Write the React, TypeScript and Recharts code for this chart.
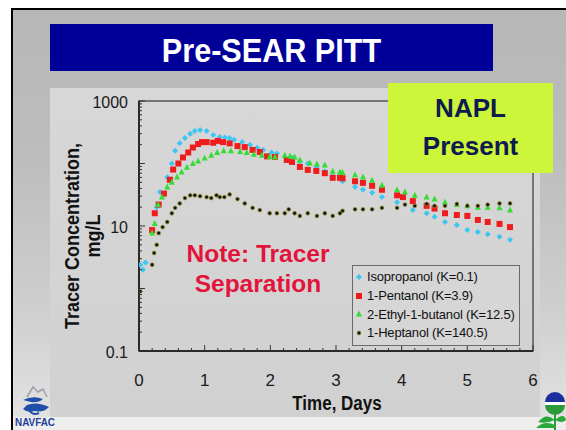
import React from 'react';
import { ScatterChart, Scatter, XAxis, YAxis, Legend, ReferenceArea } from 'recharts';

// ---- data (days, mg/L) ----
const isoDays = [0.02, 0.06, 0.1, 0.27, 0.32, 0.43, 0.5, 0.55, 0.62, 0.7, 0.78, 0.85, 0.93, 1.03, 1.13, 1.23, 1.31, 1.38, 1.45, 1.57, 1.69, 1.8, 1.89, 2.02, 2.1, 2.34, 2.45, 2.57, 2.7, 2.83, 2.95, 3.1, 3.29, 3.41, 3.55, 3.7, 3.93, 4.17, 4.38, 4.5, 4.66, 4.84, 5.0, 5.16, 5.31, 5.49, 5.65];
const isoConc = [2.4, 2.0, 2.6, 20, 35, 60, 100, 160, 210, 255, 300, 330, 345, 330, 285, 265, 260, 255, 240, 220, 200, 178, 165, 150, 145, 124, 108, 100, 88, 75, 62, 52, 42, 38, 34, 29, 24, 18, 16, 14, 11.6, 10.4, 8.6, 8.0, 7.4, 6.7, 6.0];

const penDays = [0.2, 0.24, 0.3, 0.38, 0.47, 0.52, 0.6, 0.67, 0.75, 0.82, 0.9, 0.96, 1.03, 1.13, 1.2, 1.28, 1.38, 1.5, 1.61, 1.73, 1.84, 1.95, 2.07, 2.25, 2.33, 2.45, 2.57, 2.7, 2.83, 2.95, 3.06, 3.1, 3.29, 3.41, 3.55, 3.7, 3.93, 4.02, 4.17, 4.38, 4.5, 4.66, 4.84, 5.0, 5.16, 5.31, 5.49, 5.65];
const penConc = [8.6, 16, 22, 33, 55, 80, 100, 125, 150, 180, 205, 220, 220, 215, 230, 220, 210, 190, 183, 165, 153, 130, 127, 114, 106, 88, 79, 76, 70, 59, 59, 58, 52, 49, 44, 38, 31, 29, 25, 21, 19, 16, 15, 14.5, 12.5, 11.6, 10.8, 9.6];

const ebDays = [0.2, 0.24, 0.29, 0.35, 0.43, 0.5, 0.58, 0.65, 0.73, 0.82, 0.9, 1.0, 1.1, 1.19, 1.29, 1.4, 1.54, 1.64, 1.75, 1.87, 1.99, 2.07, 2.22, 2.3, 2.37, 2.45, 2.6, 2.71, 2.83, 2.95, 3.06, 3.1, 3.29, 3.41, 3.55, 3.7, 3.93, 4.05, 4.2, 4.38, 4.5, 4.66, 4.84, 5.0, 5.16, 5.31, 5.49, 5.65];
const ebConc = [7.7, 11, 22, 29, 42, 50, 61, 73, 87, 100, 110, 122, 135, 150, 160, 160, 155, 150, 140, 135, 128, 127, 135, 132, 127, 114, 102, 98, 95, 75, 73, 72, 66, 61, 54, 45, 38, 35, 31, 29, 27, 24, 22, 21, 20, 20, 19.5, 18];

const hepDays = [0.02, 0.2, 0.23, 0.27, 0.3, 0.36, 0.43, 0.5, 0.55, 0.62, 0.7, 0.78, 0.85, 0.93, 1.03, 1.1, 1.18, 1.23, 1.3, 1.38, 1.5, 1.61, 1.73, 1.84, 1.99, 2.1, 2.22, 2.28, 2.37, 2.45, 2.57, 2.71, 2.83, 2.95, 3.06, 3.1, 3.29, 3.41, 3.55, 3.7, 3.93, 4.05, 4.2, 4.38, 4.5, 4.66, 4.84, 5.0, 5.16, 5.31, 5.49, 5.65];
const hepConc = [0.9, 2.4, 3.7, 5.0, 7.7, 9.6, 11.6, 16, 19.5, 23, 28, 31, 31, 30, 29, 28, 31, 29, 29, 32, 27, 23, 19.5, 18, 16, 16, 16, 18.5, 16, 14.5, 16, 14.5, 16, 14.5, 16, 17.5, 18.5, 18.5, 18.5, 19.5, 19.5, 22, 21, 22.5, 21, 21, 22.5, 21, 21, 22, 23, 23];

const seriesNames = ['Isopropanol (K=0.1)', '1-Pentanol (K=3.9)', '2-Ethyl-1-butanol (K=12.5)', '1-Heptanol (K=140.5)'];
const seriesColors = ['#3ec6f2', '#ee1c1c', '#33dd33', '#111111'];

const xMajorTicks = [0, 1, 2, 3, 4, 5, 6];
const xAllTicks = [0, 0.2, 0.4, 0.6, 0.8, 1, 1.2, 1.4, 1.6, 1.8, 2, 2.2, 2.4, 2.6, 2.8, 3, 3.2, 3.4, 3.6, 3.8, 4, 4.2, 4.4, 4.6, 4.8, 5, 5.2, 5.4, 5.6, 5.8, 6];
const yAllTicks = [0.1, 0.2, 0.3, 0.4, 0.5, 0.6, 0.7, 0.8, 0.9, 1, 2, 3, 4, 5, 6, 7, 8, 9, 10, 20, 30, 40, 50, 60, 70, 80, 90, 100, 200, 300, 400, 500, 600, 700, 800, 900, 1000];
const yMajorTicks = [0.1, 1, 10, 100, 1000];
const yLabelTicks = [0.1, 10, 1000];

const zip = (d: number[], c: number[]) => d.map((t, i) => ({ t, c: c[i] }));
const isoData = zip(isoDays, isoConc);
const penData = zip(penDays, penConc);
const ebData = zip(ebDays, ebConc);
const hepData = zip(hepDays, hepConc);

const FONT = '"Liberation Sans", Arial, Helvetica, sans-serif';

const markerFor = (idx: number, cx: number, cy: number) => {
  if (idx === 0) {
    return <path d={`M${cx},${cy - 3}L${cx + 3},${cy}L${cx},${cy + 3}L${cx - 3},${cy}Z`} fill={seriesColors[0]} />;
  }
  if (idx === 1) {
    return <rect x={cx - 3} y={cy - 3} width={6} height={6} fill={seriesColors[1]} />;
  }
  if (idx === 2) {
    return <path d={`M${cx},${cy - 3.5}L${cx + 3},${cy + 2.5}L${cx - 3},${cy + 2.5}Z`} fill={seriesColors[2]} />;
  }
  return <circle cx={cx} cy={cy} r={1.9} fill={seriesColors[3]} stroke="#8f8f30" strokeWidth={0.8} />;
};

const makeShape = (idx: number) => (props: any) => {
  const { cx, cy } = props;
  if (cx == null || cy == null) return <g />;
  return markerFor(idx, cx, cy);
};

const YTick = (props: any) => {
  const { x, y, payload } = props;
  const v = payload.value;
  const major = yMajorTicks.includes(v);
  return (
    <g>
      <line x1={x} x2={x + (major ? 6 : 3)} y1={y} y2={y} stroke="#333" strokeWidth={1} />
      {yLabelTicks.includes(v) && (
        <text x={x - 11} y={y + 7} textAnchor="end" fontSize={16} fill="#1a1a1a" fontFamily={FONT}>
          {String(v)}
        </text>
      )}
    </g>
  );
};

const XTick = (props: any) => {
  const { x, y, payload } = props;
  const v = payload.value;
  const major = xMajorTicks.includes(v);
  return (
    <g>
      <line x1={x} x2={x} y1={y} y2={y - (major ? 6 : 3)} stroke="#333" strokeWidth={1} />
      {major && (
        <text x={x} y={y + 35} textAnchor="middle" fontSize={17} fill="#1a1a1a" fontFamily={FONT}>
          {String(v)}
        </text>
      )}
    </g>
  );
};

const LegendBox = (props: any) => {
  const payload = [...(props.payload || [])].sort(
    (a: any, b: any) => seriesNames.indexOf(a.value) - seriesNames.indexOf(b.value)
  );
  return (
    <div
      style={{
        width: 168,
        height: 81,
        boxSizing: 'border-box',
        border: '1px solid #6a6a6a',
        background: '#d6d6d6',
        paddingTop: 1.5,
        paddingLeft: 1,
        fontFamily: FONT,
      }}
    >
      {payload.map((p: any, i: number) => {
        const idx = Math.max(0, seriesNames.indexOf(p.value));
        return (
          <div key={i} style={{ height: 18.7, display: 'flex', alignItems: 'center' }}>
            <svg width={10} height={10} style={{ marginRight: 3, flex: 'none' }}>
              {markerFor(idx, 5, 5)}
            </svg>
            <span style={{ fontSize: 13, letterSpacing: -0.2, color: '#111', whiteSpace: 'nowrap' }}>{p.value}</span>
          </div>
        );
      })}
    </div>
  );
};

export default function App() {
  return (
    <div style={{ position: 'absolute', left: 0, top: 0, width: 566, height: 430, background: '#fff', overflow: 'hidden', fontFamily: FONT }}>
      {/* slide frame */}
      <div
        style={{
          position: 'absolute', left: 11, top: 8, width: 560, height: 430,
          borderLeft: '2px solid #000', borderTop: '2px solid #000',
          background: 'linear-gradient(180deg, #b7b7b7 0%, #bdbdbd 35%, #cfcfcf 70%, #e2e2e2 95%)',
        }}
      />
      {/* lower light strip */}
      <div style={{ position: 'absolute', left: 13, top: 417, width: 560, height: 20, background: '#eeeeee' }} />
      {/* chart panel */}
      <div style={{ position: 'absolute', left: 50, top: 88, width: 490, height: 329, background: 'linear-gradient(180deg, #d7d7d7, #d1d1d1)' }} />
      {/* title banner */}
      <div style={{ position: 'absolute', left: 50, top: 24, width: 443, height: 47, background: '#000099' }} />
      <div
        style={{
          position: 'absolute', left: 50, top: 27, width: 443, height: 47, lineHeight: '47px',
          textAlign: 'center', color: '#fff', fontWeight: 'bold', fontSize: 34, transform: 'scaleX(0.9)',
        }}
      >
        Pre-SEAR PITT
      </div>

      {/* chart */}
      <div style={{ position: 'absolute', left: 0, top: 0 }}>
        <ScatterChart width={566} height={430} margin={{ top: 101, right: 33, bottom: 49, left: 79 }}>
          <ReferenceArea x1={0} x2={6} y1={0.1} y2={1000} fill="none" stroke="#555" strokeWidth={1.5} ifOverflow="visible" />
          <XAxis
            type="number"
            dataKey="t"
            domain={[0, 6]}
            ticks={xAllTicks}
            interval={0}
            height={30}
            tickSize={0}
            tickMargin={0}
            tickLine={false}
            tick={<XTick />}
            axisLine={{ stroke: '#111', strokeWidth: 1.5 }}
            allowDataOverflow
          />
          <YAxis
            type="number"
            dataKey="c"
            scale="log"
            domain={[0.1, 1000]}
            ticks={yAllTicks}
            interval={0}
            width={60}
            tickSize={0}
            tickMargin={0}
            tickLine={false}
            tick={<YTick />}
            axisLine={{ stroke: '#111', strokeWidth: 1.5 }}
            allowDataOverflow
          />
          <Scatter name={seriesNames[0]} data={isoData} fill={seriesColors[0]} shape={makeShape(0)} isAnimationActive={false} />
          <Scatter name={seriesNames[1]} data={penData} fill={seriesColors[1]} shape={makeShape(1)} isAnimationActive={false} />
          <Scatter name={seriesNames[2]} data={ebData} fill={seriesColors[2]} shape={makeShape(2)} isAnimationActive={false} />
          <Scatter name={seriesNames[3]} data={hepData} fill={seriesColors[3]} shape={makeShape(3)} isAnimationActive={false} />
          <Legend
            layout="vertical"
            align="center"
            verticalAlign="middle"
            content={<LegendBox />}
            wrapperStyle={{ left: 352, top: 265, width: 168, height: 81 }}
          />
        </ScatterChart>
      </div>

      {/* axis titles */}
      <div
        style={{
          position: 'absolute', left: 83 - 120, top: 236 - 21, width: 240, height: 42, lineHeight: '21px',
          textAlign: 'center', fontWeight: 'bold', fontSize: 20, color: '#111',
          transform: 'rotate(-90deg) scaleX(0.9)', whiteSpace: 'nowrap',
        }}
      >
        Tracer Concentration,<br />mg/L
      </div>
      <div
        style={{
          position: 'absolute', left: 237, top: 391, width: 200, lineHeight: '24px',
          textAlign: 'center', fontWeight: 'bold', fontSize: 20, color: '#111', transform: 'scaleX(0.85)',
        }}
      >
        Time, Days
      </div>

      {/* NAPL box */}
      <div
        style={{
          position: 'absolute', left: 388, top: 83, width: 165, height: 90, background: '#cdf53a',
          boxSizing: 'border-box', paddingTop: 6, textAlign: 'center', color: '#0f1a4f',
          fontWeight: 'bold', fontSize: 26, lineHeight: '38px',
        }}
      >
        NAPL<br />Present
      </div>

      {/* note */}
      <div
        style={{
          position: 'absolute', left: 158, top: 238.5, width: 200, textAlign: 'center', color: '#e3143c',
          fontWeight: 'bold', fontSize: 24.5, lineHeight: '30px',
        }}
      >
        Note: Tracer<br />Separation
      </div>

      {/* NAVFAC logo */}
      <svg style={{ position: 'absolute', left: 13, top: 383 }} width={46} height={46}>
        <path d="M14,14 L20,4 L25,9 L30,6 L34,14" fill="none" stroke="#9aa0a8" strokeWidth={1.5} />
        <path d="M10,17 Q20,12 30,16 Q25,20 18,19 Z" fill="#1f4fa8" />
        <path d="M14,22 Q24,18 36,24 Q30,30 22,28 Q14,30 10,26 Z" fill="#1f4fa8" />
        <path d="M16,27 Q20,33 26,30" fill="none" stroke="#1f4fa8" strokeWidth={2} />
        <text x={2} y={43} fontSize={10} fontWeight="bold" fill="#1d3f9a" fontFamily={FONT} textLength={40} lengthAdjust="spacingAndGlyphs">
          NAVFAC
        </text>
      </svg>

      {/* EPA logo */}
      <svg style={{ position: 'absolute', left: 534, top: 390 }} width={32} height={40}>
        <circle cx={21} cy={12} r={10} fill="#1b2f9c" />
        <rect x={11} y={12} width={20} height={3} fill="#ffffff" />
        <path d="M11,15 A10,10 0 0 0 31,15 Z" fill="#2a9a3a" />
        <path d="M21,22 L21,40" stroke="#2a9a3a" strokeWidth={2} />
        <path d="M21,30 Q12,22 4,32 Q12,34 21,30 Z" fill="#2aa83a" />
        <path d="M21,30 Q30,22 32,30 Q28,34 21,30 Z" fill="#2aa83a" />
        <path d="M21,35 Q10,30 2,38 L21,38 Z" fill="#2aa83a" />
      </svg>
    </div>
  );
}
